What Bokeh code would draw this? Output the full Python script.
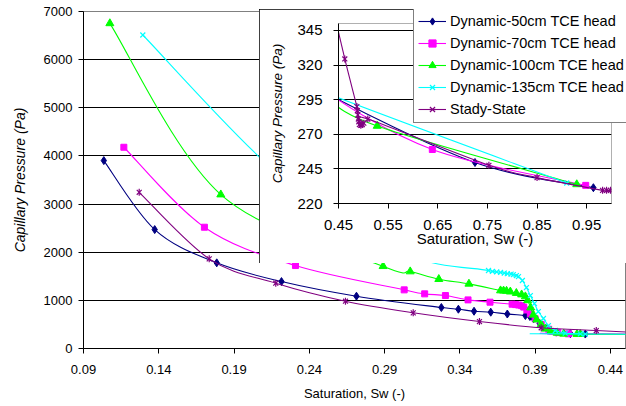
from bokeh.plotting import figure
from bokeh.models import Range1d, FixedTicker, NumeralTickFormatter, ColumnDataSource, Legend, LegendItem
from bokeh.embed import file_html
from bokeh.resources import INLINE
import math

# ---------------- data ----------------
s50_x = [0.1035, 0.1373, 0.1785, 0.2215, 0.2713, 0.3277, 0.3390, 0.3494, 0.3605, 0.3715, 0.3835, 0.3865,
         0.3890, 0.3930, 0.3980, 0.4040, 0.4134, 0.4233, 0.7250, 0.9635]
s50_y = [3903, 2470, 1779, 1390, 1086, 851, 816, 774, 754, 716, 685, 665,
         620, 520, 420, 340, 308, 300, 249.6, 231.4]

s70_x = [0.1168, 0.1703, 0.2308, 0.3030, 0.3166, 0.3304, 0.3454, 0.3600, 0.3747, 0.3770, 0.3790, 0.3810,
         0.3824, 0.3845, 0.3868, 0.3900, 0.3940, 0.3990, 0.4050, 0.4120, 0.6390, 0.9480]
s70_y = [4180, 2519, 1723, 1218, 1135, 1100, 1010, 962, 920, 912, 903, 890,
         860, 800, 720, 616, 500, 400, 330, 305, 259.0, 233.1]

s100_x = [0.1075, 0.1812, 0.2890, 0.3070, 0.3260, 0.3460, 0.3670, 0.3690, 0.3710, 0.3735, 0.3775, 0.3810,
          0.3835, 0.3850, 0.3870, 0.3888, 0.3910, 0.3940, 0.3968, 0.4005, 0.4045, 0.4090, 0.4178, 0.4200,
          0.5280, 0.9300]
s100_y = [6753, 3197, 1709, 1599, 1440, 1343, 1204, 1200, 1195, 1180, 1150, 1120,
          1080, 1000, 850, 700, 600, 500, 409, 360, 325, 305, 298, 298,
          276.0, 233.8]

s135_x = [0.1294, 0.2200, 0.3000, 0.3590, 0.3616, 0.3645, 0.3670, 0.3695, 0.3715, 0.3740, 0.3755, 0.3775,
          0.3789, 0.3815, 0.3842, 0.3868, 0.3895, 0.3921, 0.3955, 0.3988, 0.4034, 0.4100, 0.4200, 0.4233,
          0.9097]
s135_y = [6512, 3600, 2000, 1620, 1600, 1590, 1580, 1565, 1555, 1545, 1535, 1515,
          1495, 1412, 1266, 1100, 934, 768, 623, 477, 374, 320, 305, 300,
          234.8]

ss_x = [0.1270, 0.1735, 0.2177, 0.2640, 0.3090, 0.3530, 0.3940, 0.4306, 0.4627, 0.4870, 0.4880, 0.4890,
        0.4900, 0.4910, 0.4920, 0.4950, 0.4980, 0.5010, 0.5090, 0.7530, 0.8500, 0.9820, 0.9900, 0.9980]
ss_y = [3245, 1862, 1356, 982, 741, 560, 430, 373, 324.4, 290, 287, 284,
        281, 279, 277, 276.5, 277, 278, 281, 247.6, 238.7, 229.5, 229.5, 229.5]

series_names = ["Dynamic-50cm TCE head", "Dynamic-70cm TCE head", "Dynamic-100cm TCE head",
                "Dynamic-135cm TCE head", "Stady-State"]

main_xticks = [0.09, 0.14, 0.19, 0.24, 0.29, 0.34, 0.39, 0.44]
main_yticks = [0, 1000, 2000, 3000, 4000, 5000, 6000, 7000]
inset_xticks = [0.45, 0.55, 0.65, 0.75, 0.85, 0.95]
inset_yticks = [220, 245, 270, 295, 320, 345]

# ---------------- styles ----------------
FONT = "Liberation Sans"
colors = ["#000080", "#FF00FF", "#00FF00", "#00FFFF", "#800080"]
markers = ["diamond", "square", "triangle", "x", "star"]
msizes = [8, 6, 8, 7, 7]
series = [(s50_x, s50_y), (s70_x, s70_y), (s100_x, s100_y), (s135_x, s135_y), (ss_x, ss_y)]


def bezier_source(xs, ys):
    n = len(xs)
    d = dict(x0=[], y0=[], x1=[], y1=[], cx0=[], cy0=[], cx1=[], cy1=[])
    for i in range(n - 1):
        ip, inx = max(i - 1, 0), min(i + 2, n - 1)
        d["x0"].append(xs[i]); d["y0"].append(ys[i])
        d["x1"].append(xs[i + 1]); d["y1"].append(ys[i + 1])
        d["cx0"].append(xs[i] + (xs[i + 1] - xs[ip]) / 6.0)
        d["cy0"].append(ys[i] + (ys[i + 1] - ys[ip]) / 6.0)
        d["cx1"].append(xs[i + 1] - (xs[inx] - xs[i]) / 6.0)
        d["cy1"].append(ys[i + 1] - (ys[inx] - ys[i]) / 6.0)
    return ColumnDataSource(d)


def draw_series(fig):
    items = []
    for (xs, ys), c, m, s, name in zip(series, colors, markers, msizes, series_names):
        src = ColumnDataSource(dict(x=xs, y=ys))
        rl = fig.bezier(x0="x0", y0="y0", x1="x1", y1="y1", cx0="cx0", cy0="cy0", cx1="cx1", cy1="cy1",
                        source=bezier_source(xs, ys), line_color=c, line_width=1.1)
        rends = [rl]
        if m == "star":
            r1 = fig.scatter("x", "y", source=src, marker="x", size=s, line_color=c, line_width=1.2)
            r2 = fig.scatter("x", "y", source=src, marker="dash", angle=math.pi / 2, size=s,
                             line_color=c, line_width=1.2)
            rends += [r1, r2]
        elif m == "x":
            r1 = fig.scatter("x", "y", source=src, marker="x", size=s, line_color=c, line_width=1.2)
            rends.append(r1)
        else:
            r1 = fig.scatter("x", "y", source=src, marker=m, size=s, line_color=c, fill_color=c)
            rends.append(r1)
        items.append(LegendItem(label=name, renderers=rends))
    return items


def style_axes(fig, tick_size, title_size_x, title_size_y):
    for ax in (fig.xaxis[0], fig.yaxis[0]):
        ax.axis_line_color = "black"
        ax.major_tick_line_color = "black"
        ax.major_tick_in = 0
        ax.major_tick_out = 5
        ax.minor_tick_line_color = None
        ax.major_label_text_font = FONT
        ax.major_label_text_font_size = tick_size
        ax.major_label_text_color = "black"
        ax.axis_label_text_font = FONT
        ax.axis_label_text_color = "black"
    fig.xaxis[0].axis_label_text_font_style = "normal"
    fig.xaxis[0].axis_label_text_font_size = title_size_x
    fig.yaxis[0].axis_label_text_font_style = "italic"
    fig.yaxis[0].axis_label_text_font_size = title_size_y


# ---------------- main figure ----------------
p = figure(width=626, height=406, output_backend="svg", toolbar_location=None,
           x_range=Range1d(0.09, 0.45), y_range=Range1d(0, 7000),
           min_border_left=83, min_border_right=1, min_border_top=11, min_border_bottom=58,
           background_fill_color="white", border_fill_color="white")
p.outline_line_color = "#808080"
p.xaxis.ticker = FixedTicker(ticks=main_xticks)
p.yaxis.ticker = FixedTicker(ticks=main_yticks)
p.xaxis.formatter = NumeralTickFormatter(format="0.00")
p.yaxis.formatter = NumeralTickFormatter(format="0")
p.xaxis.axis_label = "Saturation, Sw (-)"
p.yaxis.axis_label = "Capillary Pressure (Pa)"
style_axes(p, "13px", "13px", "14px")
p.xaxis.major_label_standoff = 11
p.xaxis.axis_label_standoff = 9
p.yaxis.major_label_standoff = 6
p.yaxis.axis_label_standoff = 13
p.xgrid.visible = False
p.ygrid.ticker = FixedTicker(ticks=main_yticks)
p.ygrid.grid_line_color = "black"
p.ygrid.grid_line_width = 1
draw_series(p)

# ---------------- inset figure ----------------
q = figure(width=367, height=254, output_backend="svg", toolbar_location=None,
           x_range=Range1d(0.45, 1.0), y_range=Range1d(220, 350),
           min_border_left=79, min_border_right=15, min_border_top=14, min_border_bottom=60,
           background_fill_color="white", border_fill_color="white")
q.outline_line_color = "#b0b0b0"
q.xaxis.ticker = FixedTicker(ticks=inset_xticks)
q.yaxis.ticker = FixedTicker(ticks=inset_yticks)
q.xaxis.formatter = NumeralTickFormatter(format="0.00")
q.yaxis.formatter = NumeralTickFormatter(format="0")
q.xaxis.axis_label = "Saturation, Sw (-)"
q.yaxis.axis_label = "Capillary Pressure (Pa)"
style_axes(q, "15px", "15px", "13.5px")
q.xaxis.major_label_standoff = 11
q.xaxis.axis_label_standoff = -3
q.yaxis.major_label_standoff = 11
q.yaxis.axis_label_standoff = 9
q.xgrid.visible = False
q.ygrid.ticker = FixedTicker(ticks=inset_yticks)
q.ygrid.grid_line_color = "black"
q.ygrid.grid_line_width = 1
draw_series(q)
q.styles = {"position": "absolute", "left": "259px", "top": "9px",
            "outline": "1px solid black", "outline-offset": "-1px", "z-index": "2"}

# ---------------- legend box (drawn over the inset) ----------------
lg = figure(width=213, height=114, output_backend="svg", toolbar_location=None,
            x_range=Range1d(0, 1), y_range=Range1d(0, 1),
            x_axis_location=None, y_axis_location=None,
            min_border_left=0, min_border_right=0, min_border_top=0, min_border_bottom=0,
            background_fill_color="white", border_fill_color="white")
lg.grid.visible = False
lg.outline_line_color = None
items = draw_series(lg)
leg = Legend(items=items, location=(0, 0), orientation="vertical",
             label_text_font=FONT, label_text_font_size="14.5px", label_text_color="black",
             glyph_width=28, glyph_height=18, label_height=18, spacing=4, padding=4, margin=0,
             label_standoff=4, border_line_color="black", border_line_width=1,
             background_fill_color="white", background_fill_alpha=1.0)
lg.add_layout(leg, "center")
lg.styles = {"position": "absolute", "left": "413px", "top": "9px", "z-index": "3"}

open("out.html", "w").write(file_html([p, q, lg], INLINE))
